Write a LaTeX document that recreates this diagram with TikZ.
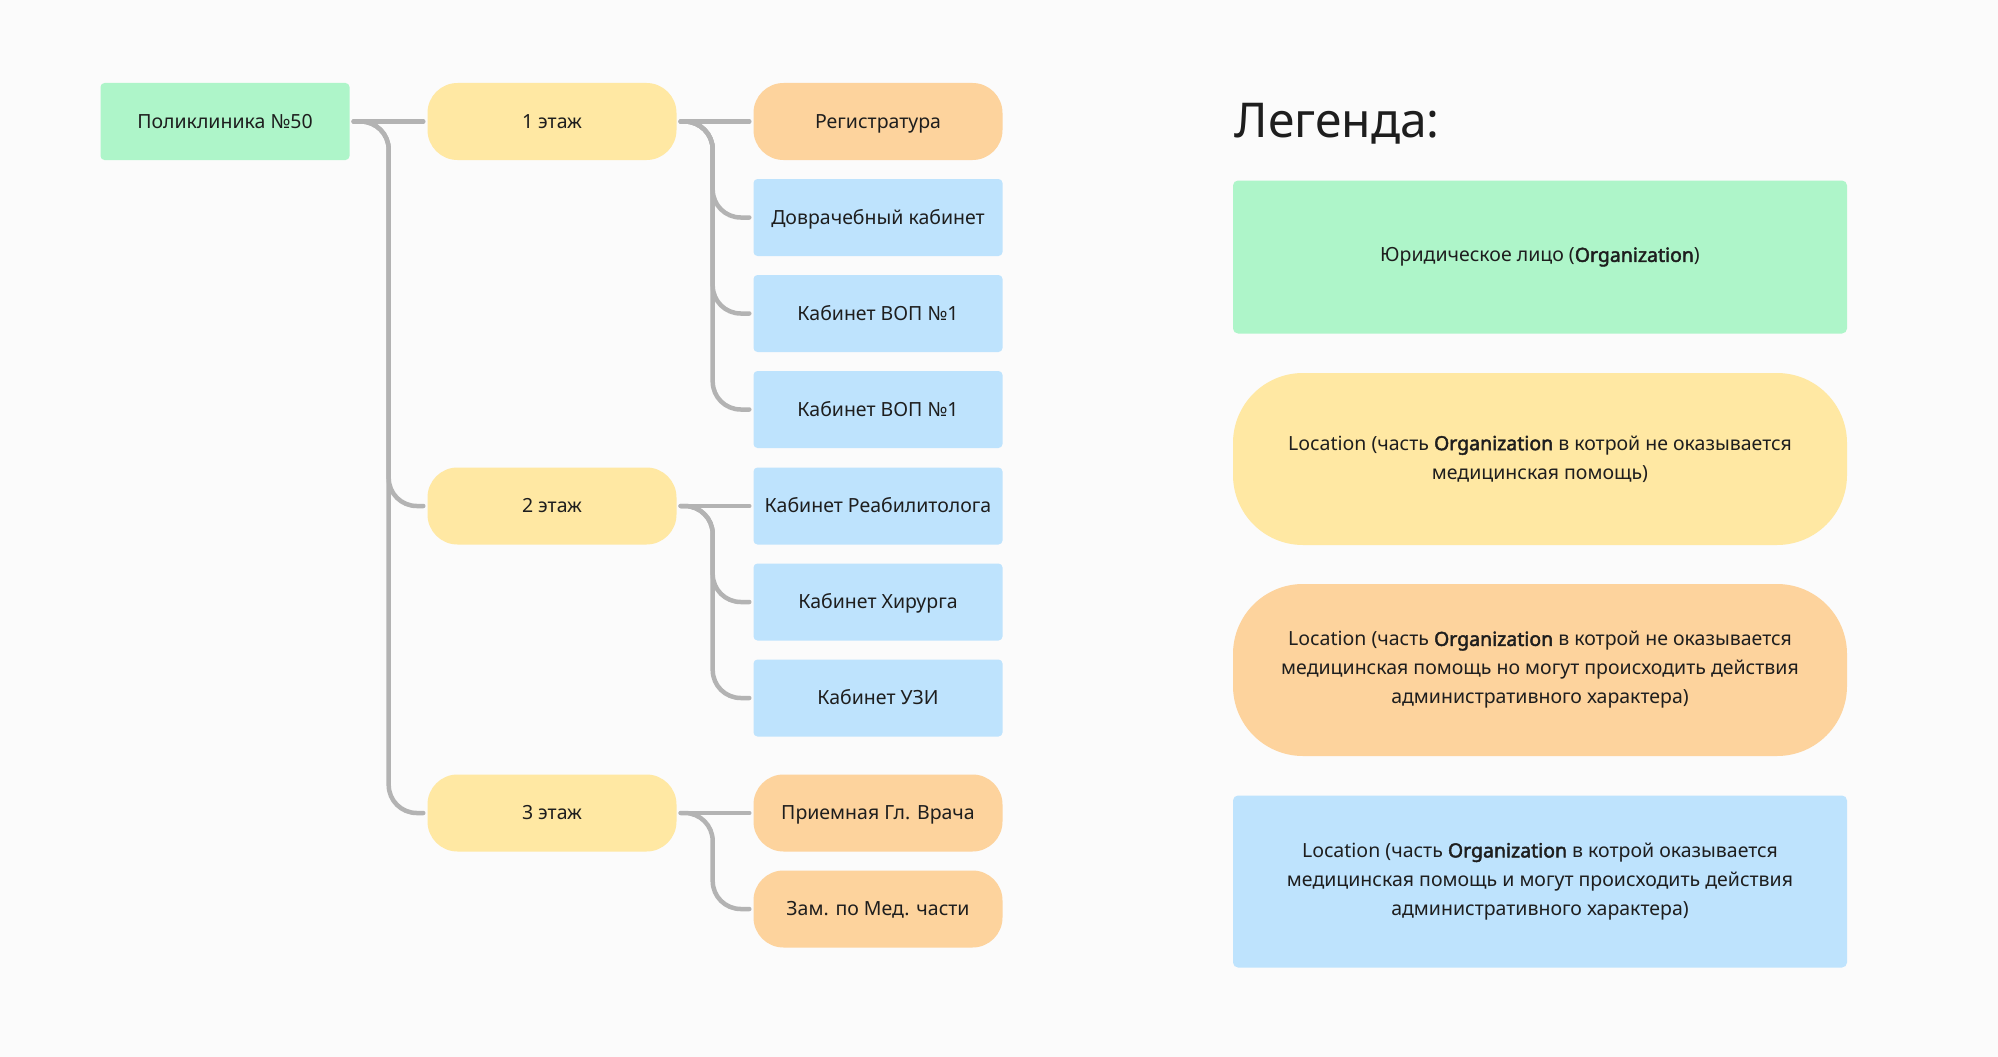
\documentclass[tikz,border=0pt]{standalone}
\usepackage{fontspec}
\setmainfont{Noto Sans}[BoldFont={Noto Sans}, BoldFeatures={FakeBold=2.2}]
\usepackage{xcolor}
\usepackage{tikz}

\definecolor{bgcol}{HTML}{FBFBFB}
\definecolor{orggreen}{HTML}{AEF5C9}
\definecolor{flooryel}{HTML}{FFE8A3}
\definecolor{adminorange}{HTML}{FDD39D}
\definecolor{roomblue}{HTML}{BEE3FD}
\definecolor{linkgray}{HTML}{B3B3B3}
\definecolor{txt}{HTML}{1E1E1E}

\begin{document}
\begin{tikzpicture}[x=1pt, y=-1pt,
    box/.style={minimum width=249pt, minimum height=77pt, inner sep=0pt,
        text=txt, text height=13.9pt, text depth=0pt, font=\fontsize{19.5}{23}\selectfont},
    orgbox/.style={box, fill=orggreen, rounded corners=4pt},
    floorbox/.style={box, fill=flooryel, rounded corners=30pt},
    adminbox/.style={box, fill=adminorange, rounded corners=30pt},
    roombox/.style={box, fill=roomblue, rounded corners=4pt},
    link/.style={draw=linkgray, line width=4.5pt, line cap=round,
        rounded corners=28pt, shorten <=4pt, shorten >=4pt},
    legbox/.style={minimum width=614pt, minimum height=172pt, inner sep=0pt,
        align=center, text=txt, font=\fontsize{19.5}{29}\selectfont}]

        \fill[bgcol] (0,0) rectangle (1998,1057);

        % tree
        \node[orgbox] (poly) at (225,121.5) {Поликлиника №50};

        \node[floorbox] (fl1) at (552,121.5) {1 этаж};
        \node[floorbox] (fl2) at (552,506) {2 этаж};
        \node[floorbox] (fl3) at (552,813) {3 этаж};

        \node[adminbox] (reg) at (878,121.5) {Регистратура};
        \node[roombox] (predoc) at (878,217.5) {Доврачебный кабинет};
        \node[roombox] (gpa) at (878,313.5) {Кабинет ВОП №1};
        \node[roombox] (gpb) at (878,409.5) {Кабинет ВОП №1};

        \node[roombox] (rehab) at (878,506) {Кабинет Реабилитолога};
        \node[roombox] (surg) at (878,602) {Кабинет Хирурга};
        \node[roombox] (usd) at (878,698) {Кабинет УЗИ};

        \node[adminbox] (chief) at (878,813) {Приемная Гл. Врача};
        \node[adminbox] (deputy) at (878,909) {Зам. по Мед. части};

        % connectors
        \draw[link] (poly.east) -- (fl1.west);
        \foreach \fl in {fl2,fl3}
            \draw[link] (poly.east) -- ++(39,0) |- (\fl.west);

        \draw[link] (fl1.east) -- (reg.west);
        \foreach \room in {predoc,gpa,gpb}
            \draw[link] (fl1.east) -- ++(36,0) |- (\room.west);

        \draw[link] (fl2.east) -- (rehab.west);
        \foreach \room in {surg,usd}
            \draw[link] (fl2.east) -- ++(36,0) |- (\room.west);

        \draw[link] (fl3.east) -- (chief.west);
        \draw[link] (fl3.east) -- ++(36,0) |- (deputy.west);

        % legend
        \node[anchor=base west, text=txt, font=\fontsize{48}{58}\selectfont] (legtitle) at (1231,137) {Легенда:};

        \node[legbox, fill=orggreen, minimum height=153pt, rounded corners=5pt] (legorg) at (1540,257)
            {Юридическое лицо (\textbf{Organization})};
        \node[legbox, fill=flooryel, rounded corners=70pt] (legfloor) at (1540,459)
            {Location (часть \textbf{Organization} в котрой не оказывается\\медицинская помощь)};
        \node[legbox, fill=adminorange, rounded corners=70pt] (legadmin) at (1540,670)
            {Location (часть \textbf{Organization} в котрой не оказывается\\медицинская помощь но могут происходить действия\\административного характера)};
        \node[legbox, fill=roomblue, rounded corners=5pt] (legroom) at (1540,881.5)
            {Location (часть \textbf{Organization} в котрой оказывается\\медицинская помощь и могут происходить действия\\административного характера)};
    \end{tikzpicture}
\end{document}
